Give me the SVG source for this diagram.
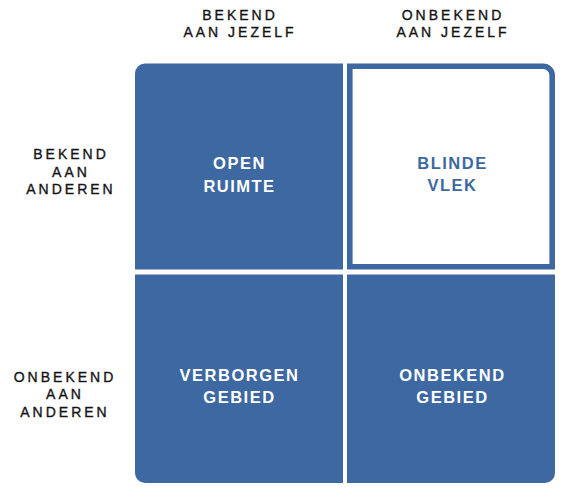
<svg xmlns="http://www.w3.org/2000/svg" width="572" height="503" viewBox="0 0 572 503">
<style>
.lbl{font-family:"Liberation Sans",Arial,sans-serif;font-size:14px;letter-spacing:3px;fill:#141414;text-anchor:middle;stroke:#141414;stroke-width:0.35px}
.in{font-family:"Liberation Sans",Arial,sans-serif;font-size:16.5px;font-weight:bold;letter-spacing:1.5px;text-anchor:middle}
.w{fill:#ffffff}
.b{fill:#3d68a1}
.fill{fill:#3d68a1}
</style>
<rect width="572" height="503" fill="#ffffff"/>
<g id="header-col1">
<text class="lbl" x="240" y="19.5">BEKEND</text>
<text class="lbl" x="240" y="37">AAN JEZELF</text>
</g>
<g id="header-col2">
<text class="lbl" x="453" y="19.5">ONBEKEND</text>
<text class="lbl" x="453" y="37">AAN JEZELF</text>
</g>
<g id="header-row1">
<text class="lbl" x="71" y="159">BEKEND</text>
<text class="lbl" x="71" y="176.7">AAN</text>
<text class="lbl" x="71" y="194">ANDEREN</text>
</g>
<g id="header-row2">
<text class="lbl" x="65" y="381.7">ONBEKEND</text>
<text class="lbl" x="65" y="399">AAN</text>
<text class="lbl" x="65" y="416.7">ANDEREN</text>
</g>
<g id="open-ruimte">
<path class="fill" d="M145,63.5 H343 V269.5 H135 V73.5 A10,10 0 0 1 145,63.5 Z"/>
<text class="in w" x="239.5" y="169.3">OPEN</text>
<text class="in w" x="239.5" y="191.7">RUIMTE</text>
</g>
<g id="blinde-vlek">
<path d="M349.8,66.3 H543 A9,9 0 0 1 552.2,75.5 V266.7 H349.8 Z" fill="#ffffff" stroke="#3d68a1" stroke-width="5.6"/>
<text class="in b" x="452.5" y="168.5">BLINDE</text>
<text class="in b" x="452.5" y="190.5">VLEK</text>
</g>
<g id="verborgen-gebied">
<path class="fill" d="M135,274.5 H343 V483 H145 A10,10 0 0 1 135,473 Z"/>
<text class="in w" x="239.5" y="381">VERBORGEN</text>
<text class="in w" x="239.5" y="403.3">GEBIED</text>
</g>
<g id="onbekend-gebied">
<path class="fill" d="M347,274.5 H555 V473 A10,10 0 0 1 545,483 H347 Z"/>
<text class="in w" x="452.5" y="380.8">ONBEKEND</text>
<text class="in w" x="452.5" y="403">GEBIED</text>
</g>
<g id="connectors"></g>
</svg>
